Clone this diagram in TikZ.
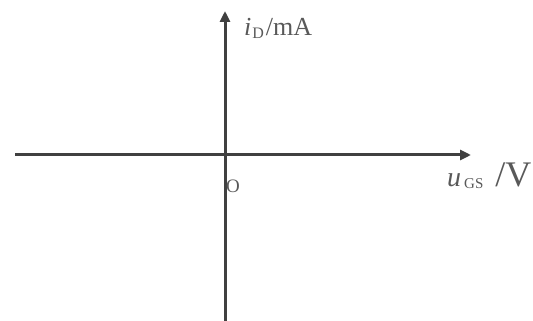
\documentclass[tikz,border=0pt]{standalone}
\usepackage{fontspec}
\setmainfont{Liberation Serif}
\usetikzlibrary{arrows.meta}
\begin{document}
\begin{tikzpicture}[x=1pt,y=1pt,
  axis/.style={draw=black!75,line width=3pt,-{Triangle[length=11pt,width=10pt]}},
  lbl/.style={inner sep=0pt,text=black!65}]
\useasboundingbox (0,0) rectangle (533,321);
\coordinate (xs) at (15,166);
\coordinate (xe) at (471,166);
\coordinate (ys) at (225,0);
\coordinate (ye) at (225,310);
\draw[axis] (xs) -- (xe);
\draw[axis] (ys) -- (ye);
\node[lbl,anchor=base west] (yl) at (244,285) {{\fontsize{26}{26}\selectfont\textit{i}}\hspace{1pt}\raisebox{-3pt}{\fontsize{16}{16}\selectfont D}\hspace{2pt}{\fontsize{26}{26}\selectfont/mA}};
\node[lbl,anchor=base west] (xl) at (447,134) {{\fontsize{28}{28}\selectfont\textit{u}}\hspace{3pt}\raisebox{-2pt}{\fontsize{15}{15}\selectfont GS}\hspace{12pt}{\fontsize{36}{36}\selectfont/V}};
\node[lbl,font=\fontsize{19}{19}\selectfont] (o) at (233,135) {O};
\end{tikzpicture}
\end{document}
